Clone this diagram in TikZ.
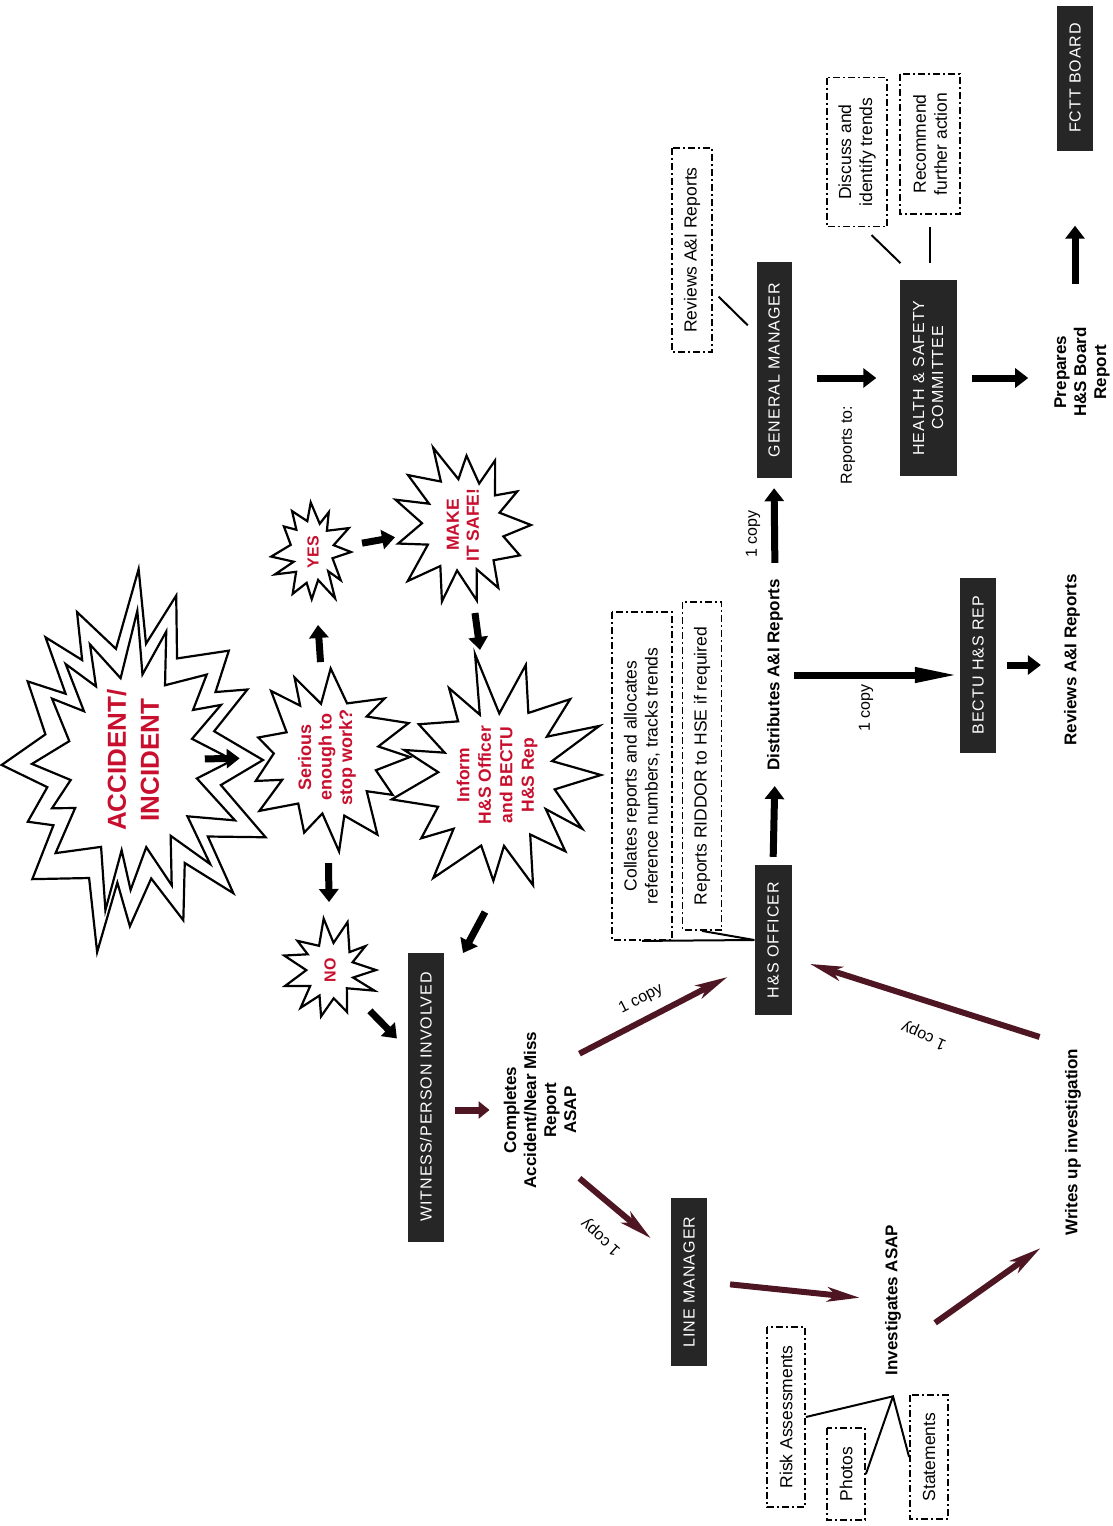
\documentclass[tikz,border=0pt]{standalone}
\usepackage{fontspec}
\setmainfont{Liberation Sans}
\newfontfamily\rolefont[LetterSpace=6]{Liberation Sans}
\usepackage{xcolor}
\usepackage{tikz}
\usetikzlibrary{shapes,arrows,positioning,calc,arrows.meta}

\definecolor{rolegray}{RGB}{38,38,38}
\definecolor{alarmred}{RGB}{200,16,46}
\definecolor{copymaroon}{RGB}{78,22,34}
\definecolor{copyred}{RGB}{190,30,60}

% spiky outline round a centre: centre, points, seed, outer rx, outer ry, inner rx, inner ry
\newcommand{\spikes}[7]{%
  \pgfmathsetseed{#3}%
  \draw[burstline] ($(#1)+(0:#4 and #5)$)
    \foreach \k in {1,...,#2} {
      -- ($(#1)+({(\k-0.5)*360/#2+4*rand}:{#6*(1+0.1*rand)} and {#7*(1+0.1*rand)})$)
      -- ($(#1)+({\k*360/#2+5*rand*(\k<#2)}:{#4*(1+0.14*rand*(\k<#2))} and {#5*(1+0.14*rand*(\k<#2))})$)
    } -- cycle;}

\begin{document}
\begin{tikzpicture}[x=1pt,y=-1pt,
    role/.style={fill=rolegray, text=white, rotate=90, inner sep=0pt, align=center, font=\fontsize{16}{19}\rolefont},
    note/.style={draw, line width=1.8pt, dash pattern=on 7pt off 3pt on 2pt off 3pt, rotate=90, inner sep=0pt, align=center, font=\fontsize{17.5}{21}\selectfont},
    task/.style={rotate=90, align=center, inner sep=3pt, font=\fontsize{17}{20}\bfseries},
    copylbl/.style={font=\fontsize{16}{18}\selectfont},
    burstline/.style={draw, line width=2.2pt, line join=miter, fill=white},
    bursttxt/.style={rotate=90, align=center, text=alarmred, font=\fontsize{18}{20.5}\bfseries},
    blk/.style={line width=7pt, -{Triangle[length=13pt,width=19pt]}},
    blklong/.style={line width=7pt, -{Triangle[length=45pt,width=14pt]}},
    mrn/.style={copymaroon, line width=7pt, -{Triangle[length=11pt,width=17pt]}},
    copyarrow/.style={copymaroon, line width=6pt, -{Stealth[length=32pt,width=14pt,inset=8pt,fill=copyred]}},
    link/.style={line width=2pt}]

    \fill[white] (0,0) rectangle (1113,1526);
    \useasboundingbox (0,0) rectangle (1113,1526);

    % Starbursts
    \coordinate (accident) at (133,760);
    \coordinate (serious) at (327,757);
    \coordinate (yes) at (313,552);
    \coordinate (make) at (463,525);
    \coordinate (inform) at (497,775);
    \coordinate (no) at (330,970);
    \spikes{accident}{16}{7}{130}{183}{88}{125}
    \spikes{accident}{16}{7}{100}{143}{64}{92}
    \spikes{serious}{13}{3}{83}{84}{50}{58}
    \spikes{yes}{12}{5}{38}{50}{22}{30}
    \spikes{make}{13}{11}{68}{76}{40}{48}
    \spikes{inform}{15}{13}{104}{108}{62}{68}
    \spikes{no}{11}{9}{46}{46}{26}{26}
    \node[bursttxt, font=\fontsize{26}{33}\bfseries] (accT) at (accident) {ACCIDENT/\\INCIDENT};
    \node[bursttxt] (seriousT) at (serious) {Serious\\enough to\\stop work?};
    \node[bursttxt, font=\fontsize{16}{18}\bfseries] (yesT) at (yes) {YES};
    \node[bursttxt, font=\fontsize{17.5}{20}\bfseries] (makeT) at (make) {MAKE\\IT SAFE!};
    \node[bursttxt, font=\fontsize{17.5}{21.5}\bfseries] (informT) at (inform) {Inform\\H\&S Officer\\and BECTU\\H\&S Rep};
    \node[bursttxt, font=\fontsize{16}{18}\bfseries] (noT) at (no) {NO};

    % Roles
    \node[role, minimum width=289pt, minimum height=36pt] (witness) at (426,1097) {WITNESS/PERSON INVOLVED};
    \node[role, minimum width=150pt, minimum height=37pt] (officer) at (773,940) {H\&S OFFICER};
    \node[role, minimum width=168pt, minimum height=36pt] (linemgr) at (689,1282) {LINE MANAGER};
    \node[role, minimum width=216pt, minimum height=35pt] (genmgr) at (774,370) {GENERAL MANAGER};
    \node[role, minimum width=175pt, minimum height=36pt] (bectu) at (978,665) {BECTU H\&S REP};
    \node[role, minimum width=196pt, minimum height=57pt] (hsc) at (928,378) {HEALTH \& SAFETY\\COMMITTEE};
    \node[role, minimum width=145pt, minimum height=36pt] (fctt) at (1075,78) {FCTT BOARD};

    % Notes
    \node[note, minimum width=328pt, minimum height=60pt] (collates) at (642,776) {Collates reports and allocates\\reference numbers, tracks trends};
    \node[note, minimum width=328pt, minimum height=39pt] (riddor) at (702,766) {Reports RIDDOR to HSE if required};
    \node[note, minimum width=204pt, minimum height=40pt] (gmnote) at (692,250) {Reviews A\&I Reports};
    \node[note, minimum width=149pt, minimum height=60pt] (discuss) at (857,152) {Discuss and\\identify trends};
    \node[note, minimum width=140pt, minimum height=60pt] (recommend) at (930,144) {Recommend\\further action};
    \node[note, minimum width=180pt, minimum height=38pt] (risk) at (786,1417) {Risk Assessments};
    \node[note, minimum width=92pt, minimum height=38pt] (photos) at (846,1474) {Photos};
    \node[note, minimum width=124pt, minimum height=38pt] (statements) at (929,1457) {Statements};

    % Tasks
    \node[task] (completes) at (540,1110) {Completes\\Accident/Near Miss\\Report\\ASAP};
    \node[task] (distrib) at (775,675) {Distributes A\&I Reports};
    \node[task] (bectunote) at (1072,660) {Reviews A\&I Reports};
    \node[task] (prepares) at (1082,372) {Prepares\\H\&S Board\\Report};
    \node[task] (invest) at (893,1300) {Investigates ASAP};
    \node[task] (writes) at (1073,1142) {Writes up investigation};
    \node[copylbl, rotate=90] (reportsto) at (848,445) {Reports to:};

    % Copy labels
    \node[copylbl, rotate=90] (copyGM) at (753,534) {1 copy};
    \node[copylbl, rotate=90] (copyBE) at (866,708) {1 copy};
    \node[copylbl, rotate=27] (copyHO) at (641,999) {1 copy};
    \node[copylbl, rotate=138] (copyLM) at (601,1237) {1 copy};
    \node[copylbl, rotate=156] (copyWR) at (924,1035) {1 copy};

    % Star arrows
    \draw[blk] ($(accident)!0.37!(serious)$) -- ($(accident)!0.55!(serious)$);
    \draw[blk] ($(serious)!0.463!(yes)$) -- ($(serious)!0.644!(yes)$);
    \draw[blk] ($(serious)!0.498!(no)$) -- ($(serious)!0.681!(no)$);
    \draw[blk] ($(yes)!0.327!(make)$) -- ($(yes)!0.547!(make)$);
    \draw[blk] ($(make)!0.352!(inform)$) -- ($(make)!0.5!(inform)$);
    \draw[blk] ($(inform)+(-12,137)$) -- ($(inform)+(-34,178)$);
    \draw[blk] ($(no)!0.513!(witness.21)$) -- ($(no)!0.86!(witness.21)$);

    % Report flow
    \draw[mrn, shorten <=11pt, shorten >=11pt] (witness.south |- completes.north) -- (completes.north);
    \draw[copyarrow, shorten >=30pt] (completes.-35) -- (officer.141);
    \draw[copyarrow, shorten >=26pt] (completes.210) -- (linemgr.34);
    \draw[copyarrow, shorten <=23pt, shorten >=22pt] (linemgr.south) -- (invest.north);
    \draw[copyarrow, shorten <=38pt, shorten >=26pt] (invest.194) -- (writes.173);
    \draw[copyarrow, shorten <=28pt, shorten >=19pt] (writes.4) -- (officer.226);

    % Distribution
    \draw[blk, shorten <=8pt, shorten >=12pt] (officer.east) -- (distrib.west);
    \draw[blk, shorten <=13pt, shorten >=10pt] (distrib.east) -- (genmgr.west);
    \draw[blklong, shorten <=8pt] (distrib.south) -- (distrib.south -| bectu.north);
    \draw[blk, shorten <=11pt, shorten >=20pt] (bectu.south) -- (bectu.south -| bectunote.north);
    \draw[blk, shorten <=25pt, shorten >=23pt] (hsc.north -| genmgr.south) -- (hsc.north);
    \draw[blk, shorten <=15pt, shorten >=23pt] (hsc.south) -- (hsc.south -| prepares.north);
    \draw[blk, shorten <=40pt, shorten >=75pt] (fctt.west |- prepares.east) -- (fctt.west);

    % Links
    \draw[link] (collates.west) -- (officer.north);
    \draw[link] (riddor.west) -- (officer.north);
    \draw[link, shorten <=8pt, shorten >=12pt] (gmnote.207) -- (genmgr.26);
    \draw[link, shorten <=11pt, shorten >=24pt] (discuss.185) -- (hsc.6);
    \draw[link, shorten <=12pt, shorten >=17pt] (recommend.west) -- (recommend.west |- hsc.east);
    \coordinate (fan) at ($(invest.west)+(0,18)$);
    \draw[link] (risk.south) -- (fan) -- (statements.north);
    \draw[link] (fan) -- (photos.south);

\end{tikzpicture}
\end{document}
